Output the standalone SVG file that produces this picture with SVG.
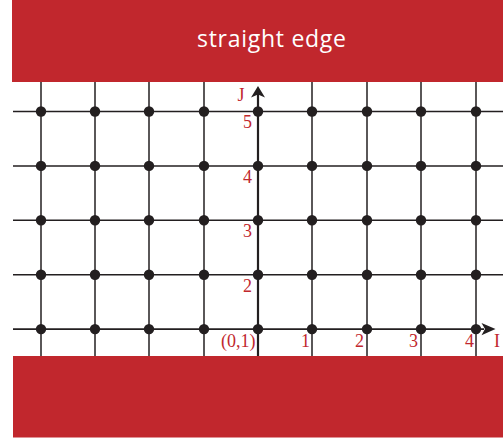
<svg xmlns="http://www.w3.org/2000/svg" width="503" height="443" viewBox="0 0 503 443">
<style>
.band{fill:#c1272d}
.grid line{stroke:#231f20;stroke-width:1.5}
.axis{stroke:#231f20;stroke-width:2.2;fill:none}
.dot{fill:#231f20}
.lbl{fill:#c1272d;font-family:"Liberation Serif",serif;font-size:18px}
.title{fill:#ffffff;font-family:"Open Sans","Liberation Sans",sans-serif;font-size:23px}
</style>
<defs>
<circle id="d" r="5.2" class="dot"/>
</defs>
<g id="connectors">
<g class="grid">
<line x1="41" y1="82" x2="41" y2="356"/>
<line x1="95" y1="82" x2="95" y2="356"/>
<line x1="149" y1="82" x2="149" y2="356"/>
<line x1="204" y1="82" x2="204" y2="356"/>
<line x1="312" y1="82" x2="312" y2="356"/>
<line x1="367" y1="82" x2="367" y2="356"/>
<line x1="421" y1="82" x2="421" y2="356"/>
<line x1="476" y1="82" x2="476" y2="356"/>
<line x1="13" y1="111.5" x2="503" y2="111.5"/>
<line x1="13" y1="165.9" x2="503" y2="165.9"/>
<line x1="13" y1="220.3" x2="503" y2="220.3"/>
<line x1="13" y1="274.7" x2="503" y2="274.7"/>
<line x1="13" y1="329.1" x2="484" y2="329.1" style="stroke-width:1.6"/>
</g>
<line class="axis" x1="258" y1="92" x2="258" y2="356"/>
<path d="M258 86 L265 97.5 L258 94.5 L251 97.5 Z" fill="#231f20"/>
<path d="M495.5 329.1 L481.5 323 L485 329.1 L481.5 335.2 Z" fill="#231f20"/>
</g>
<g id="bands">
<rect id="top-band" class="band" x="12" y="0" width="491" height="82"/>
<rect id="bottom-band" class="band" x="13" y="356" width="490" height="81.5"/>
<text class="title" x="271.5" y="47" text-anchor="middle" textLength="149" lengthAdjust="spacing">straight edge</text>
</g>
<g id="dots">
<g id="row5"><use href="#d" x="41" y="111.5"/><use href="#d" x="95" y="111.5"/><use href="#d" x="149" y="111.5"/><use href="#d" x="204" y="111.5"/><use href="#d" x="258" y="111.5"/><use href="#d" x="312" y="111.5"/><use href="#d" x="367" y="111.5"/><use href="#d" x="421" y="111.5"/><use href="#d" x="476" y="111.5"/></g>
<g id="row4"><use href="#d" x="41" y="165.9"/><use href="#d" x="95" y="165.9"/><use href="#d" x="149" y="165.9"/><use href="#d" x="204" y="165.9"/><use href="#d" x="258" y="165.9"/><use href="#d" x="312" y="165.9"/><use href="#d" x="367" y="165.9"/><use href="#d" x="421" y="165.9"/><use href="#d" x="476" y="165.9"/></g>
<g id="row3"><use href="#d" x="41" y="220.3"/><use href="#d" x="95" y="220.3"/><use href="#d" x="149" y="220.3"/><use href="#d" x="204" y="220.3"/><use href="#d" x="258" y="220.3"/><use href="#d" x="312" y="220.3"/><use href="#d" x="367" y="220.3"/><use href="#d" x="421" y="220.3"/><use href="#d" x="476" y="220.3"/></g>
<g id="row2"><use href="#d" x="41" y="274.7"/><use href="#d" x="95" y="274.7"/><use href="#d" x="149" y="274.7"/><use href="#d" x="204" y="274.7"/><use href="#d" x="258" y="274.7"/><use href="#d" x="312" y="274.7"/><use href="#d" x="367" y="274.7"/><use href="#d" x="421" y="274.7"/><use href="#d" x="476" y="274.7"/></g>
<g id="row1"><use href="#d" x="41" y="329.1"/><use href="#d" x="95" y="329.1"/><use href="#d" x="149" y="329.1"/><use href="#d" x="204" y="329.1"/><use href="#d" x="258" y="329.1"/><use href="#d" x="312" y="329.1"/><use href="#d" x="367" y="329.1"/><use href="#d" x="421" y="329.1"/><use href="#d" x="476" y="329.1"/></g>
</g>
<g id="labels">
<text class="lbl" x="244.5" y="100.5" text-anchor="end">J</text>
<text class="lbl" x="252" y="128.3" text-anchor="end">5</text>
<text class="lbl" x="252" y="182.7" text-anchor="end">4</text>
<text class="lbl" x="252" y="237.1" text-anchor="end">3</text>
<text class="lbl" x="252" y="291.5" text-anchor="end">2</text>
<text class="lbl" x="255.5" y="346.5" text-anchor="end">(0,1)</text>
<text class="lbl" x="310" y="346.5" text-anchor="end">1</text>
<text class="lbl" x="364" y="346.5" text-anchor="end">2</text>
<text class="lbl" x="418" y="346.5" text-anchor="end">3</text>
<text class="lbl" x="474" y="346.5" text-anchor="end">4</text>
<text class="lbl" x="494" y="346.5">I</text>
</g>
</svg>
